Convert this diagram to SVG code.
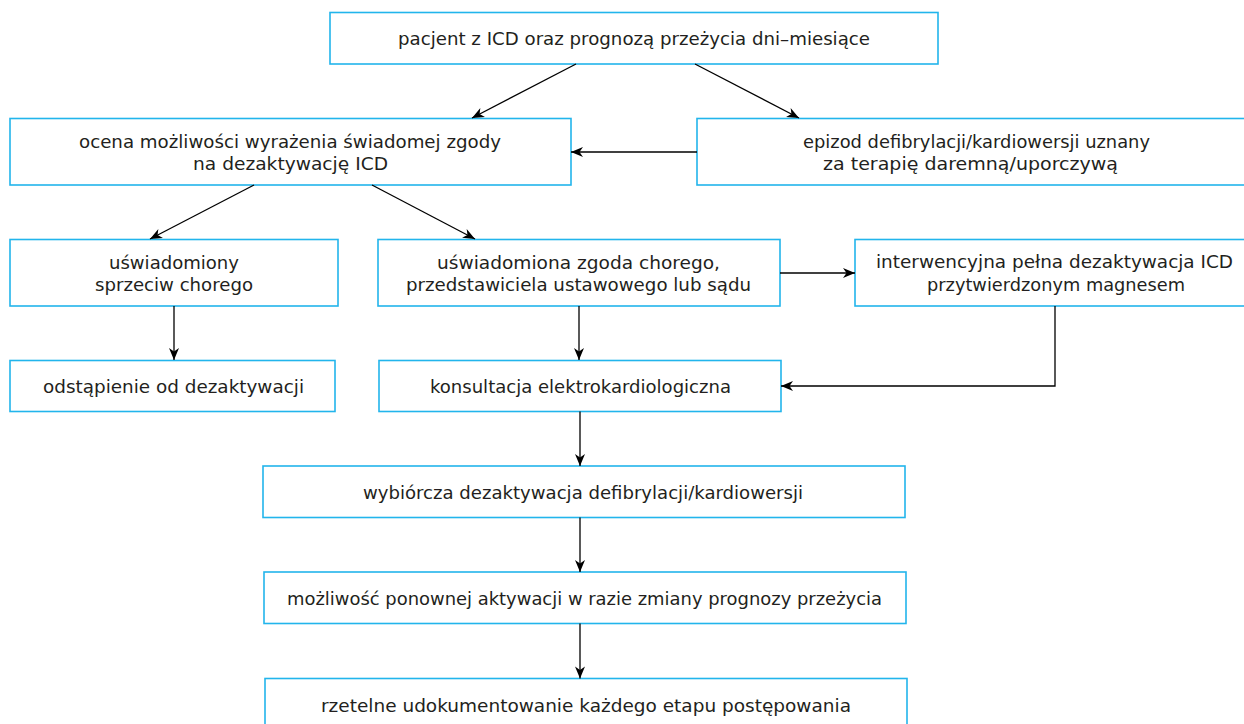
<svg xmlns="http://www.w3.org/2000/svg" width="1244" height="724" viewBox="0 0 1244 724">
<style>
  .box { fill: #ffffff; stroke: #22b5ec; stroke-width: 1.6; }
  .t { font-family: "DejaVu Sans", "Liberation Sans", sans-serif; font-size: 18px; fill: #231f20; text-anchor: middle; }
  .c { fill: none; stroke: #000000; stroke-width: 1.3; marker-end: url(#arr); }
</style>
<defs>
  <marker id="arr" markerUnits="userSpaceOnUse" markerWidth="14" markerHeight="12" refX="12" refY="5" orient="auto" overflow="visible">
    <path d="M0,0 L12,5 L0,10 L3.5,5 z" fill="#000000"/>
  </marker>
</defs>
<rect width="1244" height="724" fill="#ffffff"/>

<g id="n1"><rect class="box" x="330" y="12.5" width="608" height="51.5"/>
<text class="t" x="634" y="45" textLength="472" lengthAdjust="spacingAndGlyphs">pacjent z ICD oraz prognozą przeżycia dni–miesiące</text></g>

<g id="n2"><rect class="box" x="10" y="118.5" width="561" height="66.5"/>
<text class="t" x="290" y="148" textLength="422" lengthAdjust="spacingAndGlyphs">ocena możliwości wyrażenia świadomej zgody</text>
<text class="t" x="290.5" y="170" textLength="195" lengthAdjust="spacingAndGlyphs">na dezaktywację ICD</text></g>

<g id="n3"><rect class="box" x="697" y="118.5" width="552" height="66.5"/>
<text class="t" x="976.5" y="148" textLength="347" lengthAdjust="spacingAndGlyphs">epizod defibrylacji/kardiowersji uznany</text>
<text class="t" x="970.5" y="170" textLength="295" lengthAdjust="spacingAndGlyphs">za terapię daremną/uporczywą</text></g>

<g id="n4"><rect class="box" x="10" y="239.5" width="328" height="66.5"/>
<text class="t" x="174" y="269" textLength="130" lengthAdjust="spacingAndGlyphs">uświadomiony</text>
<text class="t" x="174" y="291" textLength="158" lengthAdjust="spacingAndGlyphs">sprzeciw chorego</text></g>

<g id="n5"><rect class="box" x="378" y="239.5" width="402" height="66.5"/>
<text class="t" x="578.5" y="269" textLength="283" lengthAdjust="spacingAndGlyphs">uświadomiona zgoda chorego,</text>
<text class="t" x="578.5" y="291" textLength="345" lengthAdjust="spacingAndGlyphs">przedstawiciela ustawowego lub sądu</text></g>

<g id="n6"><rect class="box" x="855" y="239.5" width="400" height="66.5"/>
<text class="t" x="1054.5" y="268" textLength="357" lengthAdjust="spacingAndGlyphs">interwencyjna pełna dezaktywacja ICD</text>
<text class="t" x="1056" y="291" textLength="258" lengthAdjust="spacingAndGlyphs">przytwierdzonym magnesem</text></g>

<g id="n7"><rect class="box" x="10" y="360.5" width="325" height="51"/>
<text class="t" x="173.5" y="393" textLength="261" lengthAdjust="spacingAndGlyphs">odstąpienie od dezaktywacji</text></g>

<g id="n8"><rect class="box" x="379" y="360.5" width="402" height="51"/>
<text class="t" x="580.5" y="393" textLength="301" lengthAdjust="spacingAndGlyphs">konsultacja elektrokardiologiczna</text></g>

<g id="n9"><rect class="box" x="263" y="466" width="642" height="51.5"/>
<text class="t" x="583" y="499" textLength="440" lengthAdjust="spacingAndGlyphs">wybiórcza dezaktywacja defibrylacji/kardiowersji</text></g>

<g id="n10"><rect class="box" x="264" y="572" width="642" height="51.5"/>
<text class="t" x="584.5" y="605" textLength="595" lengthAdjust="spacingAndGlyphs">możliwość ponownej aktywacji w razie zmiany prognozy przeżycia</text></g>

<g id="n11"><rect class="box" x="265" y="678.5" width="642" height="51.5"/>
<text class="t" x="586" y="712" textLength="530" lengthAdjust="spacingAndGlyphs">rzetelne udokumentowanie każdego etapu postępowania</text></g>

<g id="connectors">
  <path class="c" d="M576,64 L472,118"/>
  <path class="c" d="M695,64 L799,118"/>
  <path class="c" d="M697,152 L571,152"/>
  <path class="c" d="M254,185 L150,239"/>
  <path class="c" d="M372,185 L475,239"/>
  <path class="c" d="M174,306 L174,360"/>
  <path class="c" d="M579,306 L579,360"/>
  <path class="c" d="M780,273 L855,273"/>
  <path class="c" d="M1055,306 L1055,386 L781,386"/>
  <path class="c" d="M580,411.5 L580,466"/>
  <path class="c" d="M580,517.5 L580,572"/>
  <path class="c" d="M580,623.5 L580,678.5"/>
</g>
</svg>
